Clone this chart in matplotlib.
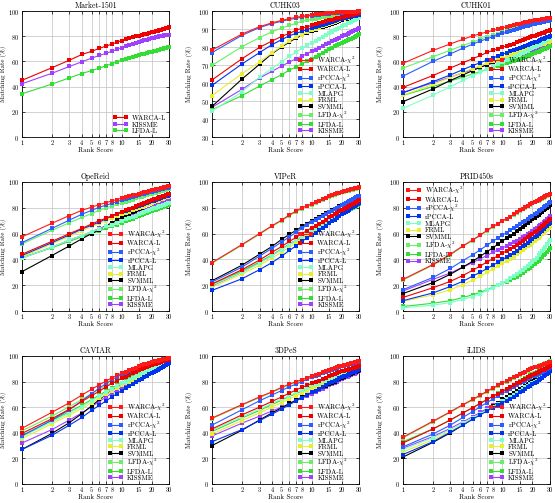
import matplotlib
matplotlib.use("Agg")
import matplotlib.pyplot as plt
import numpy as np

plt.rcParams['font.family'] = 'serif'
plt.rcParams['font.serif'] = ['cmr10', 'DejaVu Serif']
plt.rcParams['mathtext.fontset'] = 'cm'
plt.rcParams['axes.formatter.use_mathtext'] = True

ranks = np.arange(1, 31)
xticks = [1, 2, 3, 4, 5, 6, 7, 8, 10, 15, 20, 30]

names = ['WARCA-$\\chi^2$', 'WARCA-L', 'rPCCA-$\\chi^2$', 'rPCCA-L', 'MLAPG',
         'FRML', 'SVMML', 'LFDA-$\\chi^2$', 'LFDA-L', 'KISSME']
colors = ['#ff1a1a', '#ee0000', '#2a5cff', '#0033ee', '#7fffc8',
          '#e6f030', '#000000', '#66f066', '#33dd33', '#a040ff']

# Market-1501
mkt_warca_l = [45.0, 55.0, 61.0, 65.5, 68.0, 70.4, 72.2, 73.8, 75.2, 76.6, 77.5, 78.3, 79.1, 79.8, 80.5, 81.0, 81.5, 82.0, 82.5, 83.0, 83.5, 83.9, 84.3, 84.7, 85.1, 85.5, 85.9, 86.3, 86.8, 87.3]
mkt_kissme = [42.3, 50.6, 56.0, 59.7, 62.6, 64.7, 66.5, 68.0, 69.6, 70.9, 72.0, 73.0, 73.9, 74.7, 75.5, 76.1, 76.7, 77.3, 77.9, 78.4, 78.8, 79.2, 79.5, 79.8, 80.1, 80.4, 80.7, 80.9, 81.1, 81.3]
mkt_lfda_l = [34.3, 42.0, 47.0, 50.4, 52.7, 54.8, 56.6, 58.2, 59.7, 61.0, 62.0, 62.9, 63.7, 64.4, 65.0, 65.6, 66.1, 66.6, 67.1, 67.5, 68.0, 68.4, 68.8, 69.2, 69.6, 70.0, 70.4, 70.8, 71.2, 71.7]

# CUHK03
c03_warca_x2 = [78.3, 87.2, 91.3, 93.4, 94.8, 95.8, 96.5, 97.1, 97.5, 97.9, 98.1, 98.3, 98.5, 98.7, 98.9, 99.0, 99.1, 99.2, 99.3, 99.4, 99.4, 99.5, 99.5, 99.6, 99.6, 99.7, 99.7, 99.7, 99.8, 99.8]
c03_warca_l = [61.7, 73.5, 79.8, 83.3, 85.9, 87.6, 89.3, 90.4, 91.2, 92.0, 92.6, 93.1, 93.7, 94.2, 94.8, 95.2, 95.6, 95.9, 96.3, 96.7, 96.9, 97.1, 97.4, 97.6, 97.8, 98.0, 98.2, 98.5, 98.7, 98.9]
c03_rpcca_x2 = [76.9, 86.5, 90.8, 93.0, 94.3, 95.3, 96.0, 96.6, 97.1, 97.5, 97.7, 97.9, 98.2, 98.4, 98.6, 98.7, 98.8, 98.9, 99.0, 99.1, 99.2, 99.2, 99.3, 99.3, 99.4, 99.4, 99.5, 99.5, 99.6, 99.6]
c03_rpcca_l = [58.7, 70.6, 76.9, 81.3, 84.1, 86.3, 87.6, 88.7, 89.7, 90.6, 91.2, 91.8, 92.3, 92.9, 93.5, 93.9, 94.4, 94.8, 95.3, 95.7, 95.9, 96.2, 96.4, 96.6, 96.9, 97.1, 97.3, 97.5, 97.8, 98.0]
c03_mlapg = [44.4, 55.0, 63.3, 68.0, 71.7, 74.8, 77.2, 79.4, 81.0, 82.4, 83.5, 84.6, 85.6, 86.7, 87.8, 88.5, 89.3, 90.0, 90.8, 91.5, 92.0, 92.5, 93.1, 93.6, 94.1, 94.6, 95.1, 95.7, 96.2, 96.7]
c03_frml = [53.0, 65.2, 71.7, 76.7, 80.4, 83.3, 85.7, 86.8, 88.1, 89.3, 90.0, 90.8, 91.5, 92.3, 93.0, 93.5, 94.0, 94.4, 94.9, 95.4, 95.7, 95.9, 96.2, 96.4, 96.7, 97.0, 97.2, 97.5, 97.7, 98.0]
c03_svmml = [47.0, 62.2, 70.4, 76.3, 80.0, 82.8, 85.0, 86.5, 87.7, 88.9, 89.6, 90.3, 91.0, 91.7, 92.4, 92.9, 93.4, 94.0, 94.5, 95.0, 95.3, 95.5, 95.8, 96.0, 96.3, 96.6, 96.8, 97.1, 97.3, 97.6]
c03_lfda_x2 = [69.8, 80.2, 85.2, 88.5, 90.5, 92.0, 93.2, 94.3, 94.9, 95.5, 95.8, 96.2, 96.5, 96.9, 97.2, 97.4, 97.6, 97.7, 97.9, 98.1, 98.2, 98.3, 98.3, 98.4, 98.5, 98.6, 98.7, 98.7, 98.8, 98.9]
c03_lfda_l = [45.2, 53.0, 58.3, 61.9, 64.6, 67.2, 68.9, 70.7, 72.1, 73.5, 74.6, 75.7, 76.8, 77.9, 79.0, 79.7, 80.4, 81.0, 81.7, 82.4, 82.9, 83.3, 83.8, 84.2, 84.7, 85.2, 85.6, 86.1, 86.5, 87.0]
c03_kissme = [46.5, 56.5, 62.8, 66.5, 69.4, 71.7, 73.5, 75.0, 76.3, 77.6, 78.6, 79.5, 80.5, 81.4, 82.4, 83.1, 83.8, 84.5, 85.2, 85.9, 86.4, 86.8, 87.3, 87.8, 88.3, 88.7, 89.2, 89.7, 90.1, 90.6]

# CUHK01
c01_warca_x2 = [58.5, 68.7, 73.9, 77.5, 80.2, 82.0, 83.4, 84.6, 85.7, 86.7, 87.4, 88.0, 88.7, 89.3, 90.0, 90.4, 90.9, 91.3, 91.8, 92.2, 92.5, 92.7, 93.0, 93.2, 93.5, 93.8, 94.0, 94.3, 94.5, 94.8]
c01_warca_l = [39.4, 48.8, 54.8, 59.0, 62.1, 64.7, 67.1, 68.7, 70.0, 71.3, 72.3, 73.3, 74.2, 75.2, 76.2, 76.9, 77.7, 78.4, 79.2, 79.9, 80.4, 80.9, 81.4, 81.9, 82.4, 82.9, 83.4, 83.9, 84.4, 84.9]
c01_rpcca_x2 = [48.3, 60.0, 66.0, 70.5, 73.6, 76.2, 78.0, 79.6, 80.9, 82.2, 83.1, 84.0, 84.9, 85.8, 86.7, 87.3, 87.9, 88.4, 89.0, 89.6, 89.9, 90.2, 90.5, 90.8, 91.2, 91.5, 91.8, 92.1, 92.4, 92.7]
c01_rpcca_l = [35.0, 43.9, 49.3, 53.5, 56.7, 59.0, 61.1, 62.7, 64.3, 65.8, 66.8, 67.9, 68.9, 70.0, 71.0, 71.7, 72.5, 73.2, 74.0, 74.7, 75.3, 75.8, 76.4, 76.9, 77.5, 78.0, 78.6, 79.1, 79.7, 80.2]
c01_mlapg = [22.7, 33.2, 39.9, 44.9, 48.6, 51.7, 54.0, 56.1, 57.8, 59.5, 60.8, 62.0, 63.3, 64.5, 65.8, 66.7, 67.7, 68.6, 69.6, 70.5, 71.4, 72.2, 73.1, 73.9, 74.8, 75.6, 76.5, 77.3, 78.2, 79.0]
c01_frml = [33.2, 41.8, 47.3, 51.4, 54.3, 56.7, 58.5, 60.0, 61.4, 62.7, 63.8, 64.8, 65.9, 66.9, 68.0, 68.7, 69.3, 70.0, 70.6, 71.3, 71.8, 72.3, 72.8, 73.3, 73.8, 74.2, 74.7, 75.2, 75.7, 76.2]
c01_svmml = [28.0, 38.1, 44.9, 49.3, 52.7, 55.4, 57.5, 59.3, 60.7, 62.1, 63.3, 64.5, 65.6, 66.8, 68.0, 68.8, 69.5, 70.3, 71.0, 71.8, 72.4, 72.9, 73.5, 74.1, 74.7, 75.2, 75.8, 76.4, 76.9, 77.5]
c01_lfda_x2 = [54.6, 63.7, 68.9, 72.6, 75.2, 77.8, 79.5, 80.9, 82.0, 83.0, 83.8, 84.6, 85.4, 86.2, 87.0, 87.5, 88.0, 88.6, 89.1, 89.6, 89.9, 90.2, 90.5, 90.8, 91.2, 91.5, 91.8, 92.1, 92.4, 92.7]
c01_lfda_l = [33.0, 40.0, 44.5, 47.5, 50.0, 52.0, 53.6, 55.0, 56.3, 57.5, 58.4, 59.3, 60.2, 61.1, 62.0, 62.8, 63.6, 64.4, 65.2, 66.0, 66.6, 67.2, 67.8, 68.4, 69.0, 69.6, 70.2, 70.8, 71.4, 72.0]
c01_kissme = [35.5, 43.0, 47.5, 51.0, 53.5, 55.5, 57.0, 58.5, 59.8, 61.0, 61.9, 62.8, 63.7, 64.6, 65.5, 66.2, 66.9, 67.6, 68.3, 69.0, 69.6, 70.2, 70.8, 71.4, 72.0, 72.6, 73.2, 73.8, 74.4, 75.0]

# OpeReid
ope_warca_x2 = [57.5, 68.0, 74.0, 78.0, 80.5, 82.5, 84.0, 85.3, 86.4, 87.5, 88.2, 88.9, 89.6, 90.3, 91.0, 91.5, 92.0, 92.5, 93.0, 93.5, 93.9, 94.2, 94.6, 94.9, 95.3, 95.6, 96.0, 96.3, 96.7, 97.0]
ope_warca_l = [44.0, 54.0, 60.0, 64.0, 67.5, 70.0, 72.0, 74.0, 75.5, 77.0, 78.0, 79.0, 80.0, 81.0, 82.0, 82.8, 83.6, 84.4, 85.2, 86.0, 86.5, 87.0, 87.5, 88.0, 88.5, 89.0, 89.5, 90.0, 90.5, 91.0]
ope_rpcca_x2 = [53.0, 64.0, 70.5, 75.0, 78.0, 80.5, 82.0, 83.5, 84.8, 86.0, 86.8, 87.6, 88.4, 89.2, 90.0, 90.5, 91.0, 91.5, 92.0, 92.5, 92.9, 93.2, 93.6, 93.9, 94.3, 94.6, 95.0, 95.3, 95.7, 96.0]
ope_rpcca_l = [43.0, 53.0, 59.0, 63.5, 66.5, 69.0, 71.5, 73.5, 75.0, 76.5, 77.5, 78.5, 79.5, 80.5, 81.5, 82.2, 82.9, 83.6, 84.3, 85.0, 85.5, 86.0, 86.5, 87.0, 87.5, 88.0, 88.5, 89.0, 89.5, 90.0]
ope_mlapg = [41.0, 49.5, 55.0, 58.5, 61.5, 63.5, 65.5, 67.0, 68.5, 70.0, 71.0, 72.0, 73.0, 74.0, 75.0, 75.8, 76.6, 77.4, 78.2, 79.0, 79.5, 80.0, 80.5, 81.0, 81.5, 82.0, 82.5, 83.0, 83.5, 84.0]
ope_frml = [42.0, 52.0, 58.0, 62.0, 65.5, 68.0, 70.0, 72.0, 73.5, 75.0, 76.0, 77.0, 78.0, 79.0, 80.0, 80.8, 81.6, 82.4, 83.2, 84.0, 84.5, 85.0, 85.5, 86.0, 86.5, 87.0, 87.5, 88.0, 88.5, 89.0]
ope_svmml = [30.5, 43.0, 50.5, 56.0, 60.0, 63.0, 66.0, 68.5, 70.5, 72.5, 73.8, 75.1, 76.4, 77.7, 79.0, 80.0, 81.0, 82.0, 83.0, 84.0, 84.6, 85.2, 85.8, 86.4, 87.0, 87.6, 88.2, 88.8, 89.4, 90.0]
ope_lfda_x2 = [52.0, 62.5, 68.5, 72.5, 75.5, 78.0, 80.0, 81.5, 82.8, 84.0, 84.8, 85.6, 86.4, 87.2, 88.0, 88.6, 89.2, 89.8, 90.4, 91.0, 91.4, 91.7, 92.1, 92.4, 92.8, 93.1, 93.5, 93.8, 94.2, 94.5]
ope_lfda_l = [41.5, 49.0, 54.0, 57.5, 60.0, 62.0, 64.0, 65.5, 67.0, 68.5, 69.5, 70.5, 71.5, 72.5, 73.5, 74.3, 75.1, 75.9, 76.7, 77.5, 78.0, 78.5, 79.0, 79.5, 80.0, 80.5, 81.0, 81.5, 82.0, 82.5]
ope_kissme = [41.0, 49.5, 55.0, 58.5, 61.5, 64.0, 66.0, 67.5, 69.0, 70.5, 71.6, 72.7, 73.8, 74.9, 76.0, 76.8, 77.6, 78.4, 79.2, 80.0, 80.6, 81.2, 81.8, 82.4, 83.0, 83.6, 84.2, 84.8, 85.4, 86.0]

# VIPeR
vip_warca_x2 = [37.5, 51.5, 60.0, 66.0, 70.5, 74.5, 77.5, 80.0, 81.6, 83.0, 84.2, 85.4, 86.6, 87.8, 89.0, 89.7, 90.4, 91.1, 91.8, 92.5, 92.9, 93.2, 93.6, 93.9, 94.3, 94.6, 95.0, 95.3, 95.7, 96.0]
vip_warca_l = [21.0, 32.0, 39.5, 45.5, 50.0, 54.0, 57.0, 60.0, 62.3, 64.5, 66.1, 67.7, 69.3, 70.9, 72.5, 73.7, 74.9, 76.1, 77.3, 78.5, 79.3, 80.0, 80.8, 81.5, 82.3, 83.0, 83.8, 84.5, 85.3, 86.0]
vip_rpcca_x2 = [22.5, 34.0, 42.5, 48.5, 53.5, 57.5, 61.0, 64.0, 66.6, 69.0, 70.5, 72.0, 73.5, 75.0, 76.5, 77.6, 78.7, 79.8, 80.9, 82.0, 82.8, 83.5, 84.3, 85.0, 85.8, 86.5, 87.3, 88.0, 88.8, 89.5]
vip_rpcca_l = [16.0, 25.0, 32.0, 37.5, 42.5, 47.0, 50.5, 54.0, 56.6, 59.0, 60.8, 62.6, 64.4, 66.2, 68.0, 69.4, 70.8, 72.2, 73.6, 75.0, 75.9, 76.8, 77.7, 78.6, 79.5, 80.4, 81.3, 82.2, 83.1, 84.0]
vip_mlapg = [20.0, 30.0, 37.0, 43.0, 47.5, 51.5, 55.0, 58.0, 60.3, 62.5, 64.2, 65.9, 67.6, 69.3, 71.0, 72.3, 73.6, 74.9, 76.2, 77.5, 78.3, 79.1, 79.9, 80.7, 81.5, 82.3, 83.1, 83.9, 84.7, 85.5]
vip_frml = [18.5, 28.5, 35.5, 41.0, 45.5, 49.5, 53.0, 56.0, 58.6, 61.0, 62.7, 64.4, 66.1, 67.8, 69.5, 70.8, 72.1, 73.4, 74.7, 76.0, 76.8, 77.6, 78.4, 79.2, 80.0, 80.8, 81.6, 82.4, 83.2, 84.0]
vip_svmml = [23.5, 35.5, 44.0, 50.0, 55.5, 59.5, 62.5, 65.5, 67.8, 70.0, 71.4, 72.8, 74.2, 75.6, 77.0, 78.0, 79.0, 80.0, 81.0, 82.0, 82.6, 83.2, 83.8, 84.4, 85.0, 85.6, 86.2, 86.8, 87.4, 88.0]
vip_lfda_x2 = [37.0, 51.0, 59.5, 65.5, 70.0, 74.0, 77.0, 79.3, 81.0, 82.5, 83.7, 84.9, 86.1, 87.3, 88.5, 89.2, 89.9, 90.6, 91.3, 92.0, 92.4, 92.7, 93.1, 93.4, 93.8, 94.1, 94.5, 94.8, 95.2, 95.5]
vip_lfda_l = [20.5, 31.0, 38.0, 43.5, 48.0, 51.5, 54.5, 57.0, 59.3, 61.5, 63.0, 64.5, 66.0, 67.5, 69.0, 70.2, 71.4, 72.6, 73.8, 75.0, 75.8, 76.6, 77.4, 78.2, 79.0, 79.8, 80.6, 81.4, 82.2, 83.0]
vip_kissme = [19.5, 30.0, 37.5, 43.0, 48.0, 52.0, 55.0, 58.0, 60.3, 62.5, 64.1, 65.7, 67.3, 68.9, 70.5, 71.8, 73.1, 74.4, 75.7, 77.0, 77.8, 78.6, 79.4, 80.2, 81.0, 81.8, 82.6, 83.4, 84.2, 85.0]

# PRID450s
prid_warca_x2 = [24.5, 36.0, 44.0, 50.5, 55.0, 59.0, 62.5, 65.5, 67.8, 70.0, 71.6, 73.2, 74.8, 76.4, 78.0, 79.2, 80.4, 81.6, 82.8, 84.0, 84.7, 85.4, 86.1, 86.8, 87.5, 88.2, 88.9, 89.6, 90.3, 91.0]
prid_warca_l = [10.5, 18.0, 23.0, 27.5, 31.5, 35.0, 38.0, 40.5, 42.8, 45.0, 46.6, 48.2, 49.8, 51.4, 53.0, 54.4, 55.8, 57.2, 58.6, 60.0, 61.2, 62.3, 63.5, 64.6, 65.8, 66.9, 68.1, 69.2, 70.4, 71.5]
prid_rpcca_x2 = [16.5, 26.0, 33.0, 39.0, 43.5, 47.5, 51.0, 54.0, 56.6, 59.0, 60.7, 62.4, 64.1, 65.8, 67.5, 68.8, 70.1, 71.4, 72.7, 74.0, 75.1, 76.1, 77.2, 78.2, 79.3, 80.3, 81.4, 82.4, 83.5, 84.5]
prid_rpcca_l = [8.0, 14.0, 19.0, 23.0, 27.0, 30.0, 33.0, 35.5, 37.8, 40.0, 41.7, 43.4, 45.1, 46.8, 48.5, 50.0, 51.5, 53.0, 54.5, 56.0, 57.3, 58.5, 59.8, 61.0, 62.3, 63.5, 64.8, 66.0, 67.3, 68.5]
prid_mlapg = [2.5, 4.5, 6.5, 9.0, 11.0, 13.5, 16.0, 18.0, 20.0, 22.0, 23.6, 25.2, 26.8, 28.4, 30.0, 31.6, 33.2, 34.8, 36.4, 38.0, 39.7, 41.4, 43.1, 44.8, 46.5, 48.2, 49.9, 51.6, 53.3, 55.0]
prid_frml = [7.5, 12.5, 16.5, 20.5, 24.0, 27.0, 30.0, 32.5, 34.8, 37.0, 38.7, 40.4, 42.1, 43.8, 45.5, 47.0, 48.5, 50.0, 51.5, 53.0, 54.3, 55.5, 56.8, 58.0, 59.3, 60.5, 61.8, 63.0, 64.3, 65.5]
prid_svmml = [13.5, 22.0, 28.5, 34.0, 38.5, 42.5, 46.0, 49.0, 51.8, 54.5, 56.3, 58.1, 59.9, 61.7, 63.5, 65.0, 66.5, 68.0, 69.5, 71.0, 72.2, 73.3, 74.5, 75.6, 76.8, 77.9, 79.1, 80.2, 81.4, 82.5]
prid_lfda_x2 = [24.0, 35.5, 43.5, 50.0, 54.6, 58.6, 62.0, 65.0, 67.3, 69.5, 71.1, 72.7, 74.3, 75.9, 77.5, 78.7, 79.9, 81.1, 82.3, 83.5, 84.2, 84.9, 85.6, 86.3, 87.0, 87.7, 88.4, 89.1, 89.8, 90.5]
prid_lfda_l = [3.5, 6.0, 8.0, 10.5, 12.5, 14.5, 16.5, 18.5, 20.0, 21.5, 22.8, 24.1, 25.4, 26.7, 28.0, 29.4, 30.8, 32.2, 33.6, 35.0, 36.4, 37.7, 39.1, 40.4, 41.8, 43.1, 44.5, 45.8, 47.2, 48.5]
prid_kissme = [15.5, 24.5, 29.5, 34.0, 37.5, 40.5, 43.0, 45.5, 47.3, 49.0, 50.4, 51.8, 53.2, 54.6, 56.0, 57.2, 58.4, 59.6, 60.8, 62.0, 63.2, 64.3, 65.5, 66.6, 67.8, 68.9, 70.1, 71.2, 72.4, 73.5]

# CAVIAR
cav_warca_x2 = [43.5, 56.0, 63.5, 69.5, 74.0, 77.5, 80.5, 83.0, 84.8, 86.5, 87.6, 88.7, 89.8, 90.9, 92.0, 92.7, 93.4, 94.1, 94.8, 95.5, 95.8, 96.1, 96.4, 96.7, 97.0, 97.3, 97.6, 97.9, 98.2, 98.5]
cav_warca_l = [39.5, 51.0, 58.5, 64.5, 69.0, 72.5, 76.0, 78.5, 80.5, 82.5, 83.8, 85.1, 86.4, 87.7, 89.0, 89.8, 90.6, 91.4, 92.2, 93.0, 93.5, 93.9, 94.4, 94.8, 95.3, 95.7, 96.2, 96.6, 97.1, 97.5]
cav_rpcca_x2 = [37.5, 50.0, 58.0, 65.0, 70.5, 75.0, 78.5, 81.5, 83.6, 85.5, 86.6, 87.7, 88.8, 89.9, 91.0, 91.7, 92.4, 93.1, 93.8, 94.5, 94.9, 95.2, 95.6, 95.9, 96.3, 96.6, 97.0, 97.3, 97.7, 98.0]
cav_rpcca_l = [27.0, 38.0, 46.0, 52.0, 57.5, 61.5, 65.0, 68.0, 70.6, 73.0, 74.6, 76.2, 77.8, 79.4, 81.0, 82.2, 83.4, 84.6, 85.8, 87.0, 87.8, 88.5, 89.3, 90.0, 90.8, 91.5, 92.3, 93.0, 93.8, 94.5]
cav_mlapg = [37.0, 48.5, 55.5, 60.5, 65.0, 68.5, 71.5, 74.0, 76.3, 78.5, 79.9, 81.3, 82.7, 84.1, 85.5, 86.4, 87.3, 88.2, 89.1, 90.0, 90.6, 91.2, 91.8, 92.4, 93.0, 93.6, 94.2, 94.8, 95.4, 96.0]
cav_frml = [35.5, 47.0, 54.0, 59.0, 63.5, 67.0, 70.0, 72.5, 74.8, 77.0, 78.5, 80.0, 81.5, 83.0, 84.5, 85.5, 86.5, 87.5, 88.5, 89.5, 90.1, 90.7, 91.3, 91.9, 92.5, 93.1, 93.7, 94.3, 94.9, 95.5]
cav_svmml = [27.0, 39.5, 48.0, 55.0, 61.0, 66.0, 70.0, 73.0, 75.3, 77.5, 79.0, 80.5, 82.0, 83.5, 85.0, 86.0, 87.0, 88.0, 89.0, 90.0, 90.6, 91.2, 91.8, 92.4, 93.0, 93.6, 94.2, 94.8, 95.4, 96.0]
cav_lfda_x2 = [41.5, 53.0, 60.5, 66.0, 70.5, 74.0, 77.0, 79.5, 81.5, 83.5, 84.7, 85.9, 87.1, 88.3, 89.5, 90.3, 91.1, 91.9, 92.7, 93.5, 93.9, 94.3, 94.7, 95.1, 95.5, 95.9, 96.3, 96.7, 97.1, 97.5]
cav_lfda_l = [38.0, 49.5, 56.5, 61.5, 66.0, 69.5, 72.5, 75.0, 77.0, 79.0, 80.4, 81.8, 83.2, 84.6, 86.0, 86.9, 87.8, 88.7, 89.6, 90.5, 91.1, 91.6, 92.2, 92.7, 93.3, 93.8, 94.4, 94.9, 95.5, 96.0]
cav_kissme = [32.0, 42.5, 50.0, 55.5, 60.5, 64.5, 68.0, 71.0, 73.3, 75.5, 77.0, 78.5, 80.0, 81.5, 83.0, 84.1, 85.2, 86.3, 87.4, 88.5, 89.2, 89.8, 90.5, 91.1, 91.8, 92.4, 93.1, 93.7, 94.4, 95.0]

# 3DPeS
dp_warca_x2 = [51.5, 62.0, 68.0, 72.0, 75.5, 78.0, 80.0, 81.5, 83.0, 84.5, 85.4, 86.3, 87.2, 88.1, 89.0, 89.7, 90.4, 91.1, 91.8, 92.5, 92.9, 93.2, 93.6, 93.9, 94.3, 94.6, 95.0, 95.3, 95.7, 96.0]
dp_warca_l = [43.0, 54.0, 60.0, 64.5, 68.0, 71.0, 73.5, 75.5, 77.0, 78.5, 79.6, 80.7, 81.8, 82.9, 84.0, 84.8, 85.6, 86.4, 87.2, 88.0, 88.4, 88.8, 89.2, 89.6, 90.0, 90.4, 90.8, 91.2, 91.6, 92.0]
dp_rpcca_x2 = [46.0, 58.0, 65.0, 69.5, 73.0, 76.0, 78.0, 80.0, 81.8, 83.5, 84.5, 85.5, 86.5, 87.5, 88.5, 89.2, 89.9, 90.6, 91.3, 92.0, 92.4, 92.7, 93.1, 93.4, 93.8, 94.1, 94.5, 94.8, 95.2, 95.5]
dp_rpcca_l = [33.0, 42.5, 49.5, 54.5, 58.5, 62.0, 65.0, 67.5, 69.5, 71.5, 72.9, 74.3, 75.7, 77.1, 78.5, 79.5, 80.5, 81.5, 82.5, 83.5, 84.1, 84.7, 85.3, 85.9, 86.5, 87.1, 87.7, 88.3, 88.9, 89.5]
dp_mlapg = [42.0, 52.5, 58.5, 63.0, 66.5, 69.0, 71.5, 73.5, 75.3, 77.0, 78.1, 79.2, 80.3, 81.4, 82.5, 83.3, 84.1, 84.9, 85.7, 86.5, 87.0, 87.4, 87.9, 88.3, 88.8, 89.2, 89.7, 90.1, 90.6, 91.0]
dp_frml = [39.0, 49.5, 55.5, 60.0, 63.5, 66.5, 69.0, 71.0, 72.8, 74.5, 75.7, 76.9, 78.1, 79.3, 80.5, 81.4, 82.3, 83.2, 84.1, 85.0, 85.6, 86.1, 86.7, 87.2, 87.8, 88.3, 88.9, 89.4, 90.0, 90.5]
dp_svmml = [30.0, 42.0, 50.0, 55.5, 59.5, 63.0, 65.5, 68.0, 69.8, 71.5, 72.8, 74.1, 75.4, 76.7, 78.0, 79.0, 80.0, 81.0, 82.0, 83.0, 83.6, 84.2, 84.8, 85.4, 86.0, 86.6, 87.2, 87.8, 88.4, 89.0]
dp_lfda_x2 = [51.0, 61.5, 67.5, 71.5, 75.0, 77.5, 79.5, 81.0, 82.5, 84.0, 84.9, 85.8, 86.7, 87.6, 88.5, 89.2, 89.9, 90.6, 91.3, 92.0, 92.4, 92.7, 93.1, 93.4, 93.8, 94.1, 94.5, 94.8, 95.2, 95.5]
dp_lfda_l = [41.0, 51.5, 57.5, 62.0, 65.5, 68.5, 70.5, 72.5, 74.3, 76.0, 77.1, 78.2, 79.3, 80.4, 81.5, 82.4, 83.3, 84.2, 85.1, 86.0, 86.5, 87.0, 87.5, 88.0, 88.5, 89.0, 89.5, 90.0, 90.5, 91.0]
dp_kissme = [37.5, 47.5, 53.0, 57.0, 60.0, 62.5, 65.0, 67.0, 68.8, 70.5, 71.8, 73.1, 74.4, 75.7, 77.0, 78.0, 79.0, 80.0, 81.0, 82.0, 82.6, 83.2, 83.8, 84.4, 85.0, 85.6, 86.2, 86.8, 87.4, 88.0]

# iLIDS
il_warca_x2 = [36.5, 49.0, 56.5, 62.0, 66.0, 69.5, 72.5, 75.0, 77.0, 79.0, 80.4, 81.8, 83.2, 84.6, 86.0, 86.9, 87.8, 88.7, 89.6, 90.5, 91.0, 91.5, 92.0, 92.5, 93.0, 93.5, 94.0, 94.5, 95.0, 95.5]
il_warca_l = [32.0, 43.0, 50.0, 55.5, 59.5, 63.0, 66.0, 68.5, 70.5, 72.5, 74.0, 75.5, 77.0, 78.5, 80.0, 81.1, 82.2, 83.3, 84.4, 85.5, 86.2, 86.8, 87.5, 88.1, 88.8, 89.4, 90.1, 90.7, 91.4, 92.0]
il_rpcca_x2 = [29.0, 39.0, 46.0, 52.0, 56.5, 60.5, 63.5, 66.5, 68.8, 71.0, 72.5, 74.0, 75.5, 77.0, 78.5, 79.6, 80.7, 81.8, 82.9, 84.0, 84.7, 85.4, 86.1, 86.8, 87.5, 88.2, 88.9, 89.6, 90.3, 91.0]
il_rpcca_l = [23.0, 33.0, 40.5, 46.0, 50.5, 54.0, 57.0, 59.5, 61.5, 63.5, 65.1, 66.7, 68.3, 69.9, 71.5, 72.8, 74.1, 75.4, 76.7, 78.0, 79.0, 80.0, 81.0, 82.0, 83.0, 84.0, 85.0, 86.0, 87.0, 88.0]
il_mlapg = [27.0, 36.0, 42.5, 47.5, 51.5, 55.0, 58.0, 60.5, 62.8, 65.0, 66.6, 68.2, 69.8, 71.4, 73.0, 74.2, 75.4, 76.6, 77.8, 79.0, 79.9, 80.8, 81.7, 82.6, 83.5, 84.4, 85.3, 86.2, 87.1, 88.0]
il_frml = [25.0, 34.5, 41.0, 46.5, 51.0, 54.5, 57.5, 60.2, 62.5, 64.7, 66.3, 67.9, 69.5, 71.1, 72.7, 73.9, 75.1, 76.3, 77.5, 78.7, 79.6, 80.5, 81.4, 82.3, 83.2, 84.1, 85.0, 85.9, 86.8, 87.7]
il_svmml = [21.0, 32.5, 40.0, 46.0, 51.0, 55.0, 58.0, 61.0, 63.5, 66.0, 67.6, 69.2, 70.8, 72.4, 74.0, 75.3, 76.6, 77.9, 79.2, 80.5, 81.4, 82.2, 83.1, 83.9, 84.8, 85.6, 86.5, 87.3, 88.2, 89.0]
il_lfda_x2 = [36.0, 48.5, 56.0, 61.5, 65.5, 69.0, 72.0, 74.5, 76.5, 78.5, 79.9, 81.3, 82.7, 84.1, 85.5, 86.5, 87.5, 88.5, 89.5, 90.5, 91.1, 91.6, 92.2, 92.7, 93.3, 93.8, 94.4, 94.9, 95.5, 96.0]
il_lfda_l = [33.0, 43.0, 50.0, 55.5, 59.5, 63.0, 66.0, 68.5, 70.8, 73.0, 74.5, 76.0, 77.5, 79.0, 80.5, 81.6, 82.7, 83.8, 84.9, 86.0, 86.7, 87.4, 88.1, 88.8, 89.5, 90.2, 90.9, 91.6, 92.3, 93.0]
il_kissme = [28.0, 37.0, 43.5, 48.5, 52.5, 56.0, 59.0, 61.5, 63.5, 65.5, 67.1, 68.7, 70.3, 71.9, 73.5, 74.7, 75.9, 77.1, 78.3, 79.5, 80.4, 81.2, 82.1, 82.9, 83.8, 84.6, 85.5, 86.3, 87.2, 88.0]

full = lambda p: [p + '_warca_x2', p + '_warca_l', p + '_rpcca_x2', p + '_rpcca_l', p + '_mlapg',
                  p + '_frml', p + '_svmml', p + '_lfda_x2', p + '_lfda_l', p + '_kissme']

panels = [
    ('Market-1501', [(1, mkt_warca_l), (9, mkt_kissme), (8, mkt_lfda_l)], (0, 100), 'lower right'),
    ('CUHK03', list(enumerate([globals()[n] for n in full('c03')])), (30, 100), 'lower right'),
    ('CUHK01', list(enumerate([globals()[n] for n in full('c01')])), (0, 100), 'lower right'),
    ('OpeReid', list(enumerate([globals()[n] for n in full('ope')])), (0, 100), 'lower right'),
    ('VIPeR', list(enumerate([globals()[n] for n in full('vip')])), (0, 100), 'lower right'),
    ('PRID450s', list(enumerate([globals()[n] for n in full('prid')])), (0, 100), 'upper left'),
    ('CAVIAR', list(enumerate([globals()[n] for n in full('cav')])), (0, 100), 'lower right'),
    ('3DPeS', list(enumerate([globals()[n] for n in full('dp')])), (0, 100), 'lower right'),
    ('iLIDS', list(enumerate([globals()[n] for n in full('il')])), (0, 100), 'lower right'),
]

fig = plt.figure(figsize=(5.55, 5.03), dpi=100)
lefts = [0.0396, 0.382, 0.726]
ylab_x = [-0.1, -0.13, -0.13]
rows = [(0.7276, 0.2505), (0.3817, 0.2565), (0.0378, 0.2545)]

for i, (title, series, ylim, loc) in enumerate(panels):
    b, h = rows[i // 3]
    ax = fig.add_axes([lefts[i % 3], b, 0.265, h])
    n = len(series)
    for k, (ci, vals) in enumerate(series):
        ax.plot(ranks, vals, color=colors[ci], lw=0.8, marker='s', ms=2.3,
                mew=0, label=names[ci], zorder=3 + n - k, clip_on=False)
    ax.set_xscale('log')
    ax.set_xlim(1, 30)
    ax.set_ylim(*ylim)
    ax.set_xticks(xticks)
    ax.set_xticklabels([str(t) for t in xticks])
    ax.xaxis.set_minor_locator(matplotlib.ticker.NullLocator())
    step = 10 if ylim[0] == 30 else 20
    ax.set_yticks(np.arange(ylim[0], 101, step))
    ax.grid(True, color='#c0c0c0', lw=0.5)
    ax.set_axisbelow(True)
    ax.tick_params(labelsize=4.6, direction='in', length=2, width=0.5,
                   top=True, right=True, pad=2)
    for s in ax.spines.values():
        s.set_linewidth(0.6)
    ax.set_title(title, fontsize=5.6, pad=2)
    ax.set_xlabel('Rank Score', fontsize=5, labelpad=1.5)
    ax.set_ylabel('Matching Rate (%)', fontsize=4.8)
    ax.yaxis.set_label_coords(ylab_x[i % 3], 0.5)
    leg = ax.legend(loc=loc, fontsize=5, numpoints=2, handlelength=2.2,
                    handleheight=1.05, handletextpad=0.6, labelspacing=0.0,
                    borderpad=0.2, frameon=False, borderaxespad=0.2)
    leg.set_zorder(20)

fig.savefig('out.png', dpi=100)
